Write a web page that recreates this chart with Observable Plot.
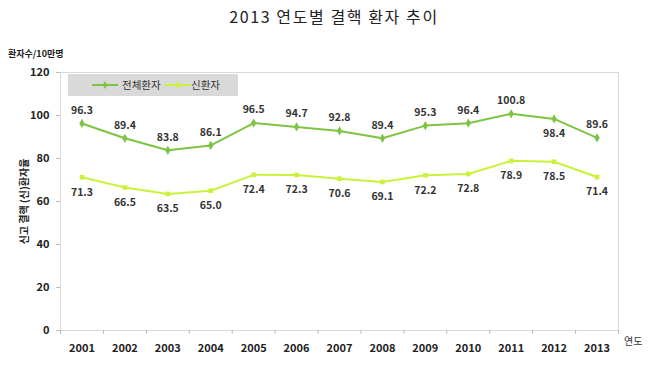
<!DOCTYPE html>
<html><head><meta charset="utf-8">
<script src="https://cdn.jsdelivr.net/npm/d3@7"></script>
<script src="https://cdn.jsdelivr.net/npm/@observablehq/plot@0.6"></script>
<style>
body{margin:0;background:#fff;font-family:"Noto Sans CJK KR","Noto Sans",sans-serif;}
#wrap{position:relative;width:650px;height:367px;overflow:hidden;}
#wrap svg{position:absolute;left:0;top:0;}
.ov{position:absolute;color:#222;white-space:nowrap;}
</style></head><body>
<div id="wrap">
  <div class="ov" style="left:0;width:668px;top:4px;text-align:center;font-size:16px;letter-spacing:1.6px;">2013 연도별 결핵 환자 추이</div>
  <div class="ov" style="left:8px;top:47px;font-size:9px;font-weight:bold;">환자수/10만명</div>
  <div class="ov" style="left:624px;top:333px;font-size:10px;color:#333;">연도</div>
  <div id="legend" class="ov" style="left:68px;top:74px;width:170px;height:22px;background:#d9d9d9;font-size:10px;color:#333;"></div>
</div>
<script>
const years = [2001,2002,2003,2004,2005,2006,2007,2008,2009,2010,2011,2012,2013];
const total = [96.3,89.4,83.8,86.1,96.5,94.7,92.8,89.4,95.3,96.4,100.8,98.4,89.6];
const newPatients = [71.3,66.5,63.5,65.0,72.4,72.3,70.6,69.1,72.2,72.8,78.9,78.5,71.4];
const seriesNames = ["전체환자","신환자"];
const colors = ["#7dc443","#c9f23a"];
const yTicks = [0,20,40,60,80,100,120];
const boundaries = years.map(y => y - 0.5).concat([years[years.length-1] + 0.5]);

const rows = [];
years.forEach((yr,i)=>{
  rows.push({year:yr, value:total[i], series:seriesNames[0]});
  rows.push({year:yr, value:newPatients[i], series:seriesNames[1]});
});
const totRows = rows.filter(d=>d.series===seriesNames[0]);
const newRows = rows.filter(d=>d.series===seriesNames[1]);
const below = new Set([2012]);

const font = "Noto Sans CJK KR";
const chart = Plot.plot({
  width:650, height:367,
  marginLeft:60, marginRight:32, marginTop:72, marginBottom:37,
  style:{fontFamily:font, background:"transparent"},
  x:{domain:[years[0]-0.5, years[years.length-1]+0.5]},
  y:{domain:[0,120]},
  color:{domain:seriesNames, range:colors},
  marks:[
    Plot.frame({stroke:"#d9d9d9"}),
    Plot.axisY({ticks:yTicks, tickSize:4, tickPadding:7, stroke:"#bbb", label:"신고 결핵 (신)환자율", labelAnchor:"center", labelOffset:40, labelArrow:"none", fontSize:11, fontWeight:"bold", color:"#222"}),
    Plot.axisX({ticks:boundaries, tickSize:4, tickFormat:()=>"", stroke:"#bbb", label:null}),
    Plot.axisX({ticks:years, tickSize:0, tickPadding:14, tickFormat:d=>String(d), label:null, fontSize:11, fontWeight:"bold", color:"#222"}),
    Plot.line(rows, {x:"year", y:"value", stroke:"series", strokeWidth:2}),
    Plot.dot(totRows, {x:"year", y:"value", fill:"series", symbol:"diamond", r:2.8}),
    Plot.dot(newRows, {x:"year", y:"value", fill:"series", symbol:"square", r:2.6}),
    Plot.text(totRows.filter(d=>!below.has(d.year)), {x:"year", y:"value", text:d=>d.value.toFixed(1), dy:-13, fontSize:10.5, fontWeight:"bold", fill:"#333"}),
    Plot.text(totRows.filter(d=>below.has(d.year)), {x:"year", y:"value", text:d=>d.value.toFixed(1), dy:15, fontSize:10.5, fontWeight:"bold", fill:"#333"}),
    Plot.text(newRows, {x:"year", y:"value", text:d=>d.value.toFixed(1), dy:15, fontSize:10.5, fontWeight:"bold", fill:"#333"})
  ]
});
chart.querySelectorAll('[aria-label="y-axis label"] text, [aria-label="y-axis label"]').forEach(e=>{e.setAttribute("font-size","10"); e.setAttribute("font-weight","bold");});
document.getElementById("wrap").prepend(chart);

// legend
const lg = d3.select("#legend");
const lsvg = lg.append("svg").attr("width",170).attr("height",22).style("position","absolute").style("left","0").style("top","0");
const pos = [{x:24, tx:54},{x:97, tx:123}];
seriesNames.forEach((s,i)=>{
  const p = pos[i];
  lsvg.append("line").attr("x1",p.x).attr("x2",p.x+26).attr("y1",11).attr("y2",11).attr("stroke",colors[i]).attr("stroke-width",2);
  lsvg.append("path").attr("d", d3.symbol(i===0?d3.symbolDiamond:d3.symbolSquare, 18)()).attr("transform",`translate(${p.x+13},11)`).attr("fill",colors[i]);
  lsvg.append("text").attr("x",p.tx).attr("y",15).attr("font-size",10.5).attr("fill","#333").attr("font-family",font).text(s);
});
</script>
</body></html>
